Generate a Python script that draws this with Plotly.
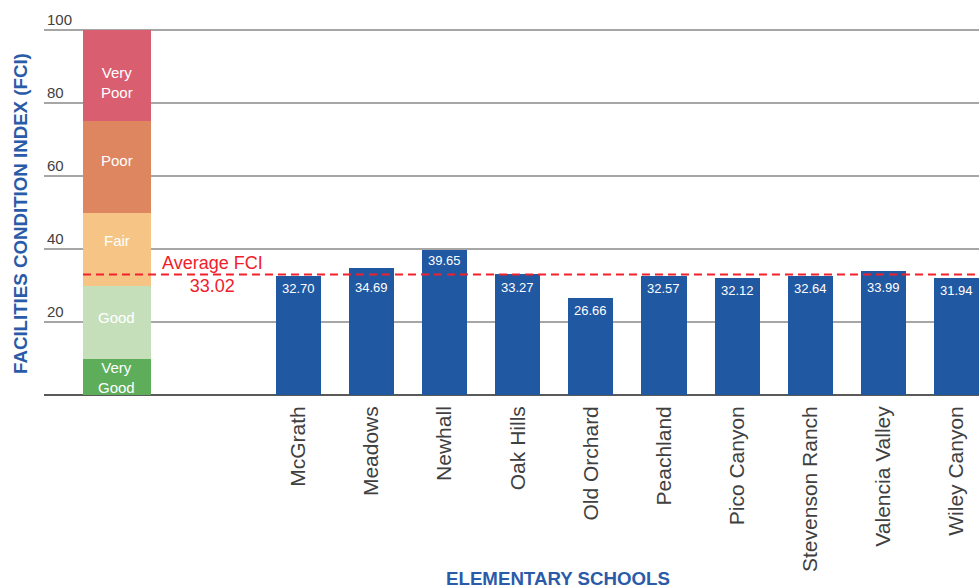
import plotly.graph_objects as go

# ---- data ----
SCHOOLS = ["McGrath", "Meadows", "Newhall", "Oak Hills", "Old Orchard",
           "Peachland", "Pico Canyon", "Stevenson Ranch", "Valencia Valley", "Wiley Canyon"]
FCI = [32.70, 34.69, 39.65, 33.27, 26.66, 32.57, 32.12, 32.64, 33.99, 31.94]
BAND_NAMES = ["Very<br>Good", "Good", "Fair", "Poor", "Very<br>Poor"]
BAND_LOW = [0, 10, 30, 50, 75]
BAND_HIGH = [10, 30, 50, 75, 100]
AVG_FCI = 33.02
Y_TICKS = [0, 20, 40, 60, 80, 100]
Y_TICK_TEXT = ["", "20", "40", "60", "80", "100"]

# ---- styling / layout constants ----
BAND_COLORS = ["#5dad5b", "#c5dfbb", "#f6c585", "#dd8660", "#d95f70"]
BAND_LABEL_Y = [4.8, 21.2, 42.3, 64.2, 85.6]   # label placement inside the scale bar
BAR_COLOR = "#2158a2"
RED = "#f0202c"
BLUE_TITLE = "#2a5ba8"
GRID = "#a6a6a6"
TEXT_GRAY = "#404040"
FONT = "Liberation Sans, Arial, sans-serif"

SCALE_X = -2.483
SCALE_W = 0.93
BAR_W = 0.616
X_RANGE = [-3.481, 9.309]
Y_RANGE = [0, 108]
AVG_LABEL_X = -1.17
LABEL_CLEARANCE = 4.0   # value labels within this distance above the avg line go below it

x_pos = list(range(len(SCHOOLS)))

fig = go.Figure()

# scale bar (condition bands)
for name, lo, hi, col, ly in zip(BAND_NAMES, BAND_LOW, BAND_HIGH, BAND_COLORS, BAND_LABEL_Y):
    fig.add_trace(go.Bar(
        x=[SCALE_X], y=[hi - lo], base=[lo], width=[SCALE_W],
        marker=dict(color=col, line=dict(width=0)),
        showlegend=False, hoverinfo="skip",
    ))
    fig.add_annotation(x=SCALE_X, y=ly, xref="x", yref="y", text=name,
                       showarrow=False, xanchor="center", yanchor="middle",
                       font=dict(color="white", size=15, family=FONT))

# school bars
fig.add_trace(go.Bar(
    x=x_pos, y=FCI, width=[BAR_W] * len(FCI),
    marker=dict(color=BAR_COLOR, line=dict(width=0)),
    showlegend=False,
))
# value labels: just inside the bar top, kept clear of the average line
for xi, v in zip(x_pos, FCI):
    ly = AVG_FCI if AVG_FCI < v < AVG_FCI + LABEL_CLEARANCE else v
    fig.add_annotation(x=xi, y=ly, xref="x", yref="y",
                       text=f"{v:.2f}", showarrow=False,
                       xanchor="center", yanchor="top",
                       yshift=-1 if ly == v and v > AVG_FCI else -3,
                       font=dict(color="white", size=13, family=FONT))

# average line
fig.add_shape(type="line", xref="x", yref="y",
              x0=SCALE_X - SCALE_W / 2, x1=X_RANGE[1], y0=AVG_FCI, y1=AVG_FCI,
              line=dict(color=RED, width=2, dash="8px,5px"), layer="above")
fig.add_annotation(x=AVG_LABEL_X, y=AVG_FCI, xref="x", yref="y",
                   text=f"Average FCI<br>{AVG_FCI:.2f}", showarrow=False,
                   font=dict(color=RED, size=18, family=FONT),
                   xanchor="center", yanchor="middle")

PLOT_TOP, PLOT_BOTTOM = 1, 395
ph = PLOT_BOTTOM - PLOT_TOP

# axis titles as annotations
fig.add_annotation(x=-0.0257, y=(PLOT_BOTTOM - 213) / ph, xref="paper", yref="paper",
                   text="<b>FACILITIES CONDITION INDEX (FCI)</b>", textangle=-90,
                   showarrow=False, xanchor="center", yanchor="middle",
                   font=dict(color=BLUE_TITLE, size=18.7, family=FONT))
fig.add_annotation(x=0.55, y=(PLOT_BOTTOM - 578) / ph, xref="paper", yref="paper",
                   text="<b>ELEMENTARY SCHOOLS</b>", showarrow=False,
                   xanchor="center", yanchor="middle",
                   font=dict(color=BLUE_TITLE, size=18.7, family=FONT))

fig.update_layout(
    width=979, height=588,
    margin=dict(l=44, r=0, t=PLOT_TOP, b=588 - PLOT_BOTTOM, autoexpand=False),
    paper_bgcolor="white", plot_bgcolor="white",
    barmode="stack", bargap=0,
    font=dict(family=FONT, color=TEXT_GRAY),
    xaxis=dict(range=X_RANGE, tickvals=x_pos, ticktext=SCHOOLS, tickangle=-90,
               tickfont=dict(size=21, color=TEXT_GRAY, family=FONT),
               ticklabelstandoff=6, automargin=False,
               showgrid=False, zeroline=False, showline=False, ticks="",
               fixedrange=True),
    yaxis=dict(range=Y_RANGE, tickvals=Y_TICKS, ticktext=Y_TICK_TEXT,
               ticklabelposition="inside top", ticks="", automargin=False,
               tickfont=dict(size=15, color=TEXT_GRAY, family=FONT),
               showgrid=True, gridcolor=GRID, gridwidth=1.5,
               zeroline=True, zerolinecolor="#595959", zerolinewidth=2,
               showline=False, fixedrange=True),
)

fig.write_html("out.html", config={"displayModeBar": False},
               post_script="document.body.style.margin='0';")
